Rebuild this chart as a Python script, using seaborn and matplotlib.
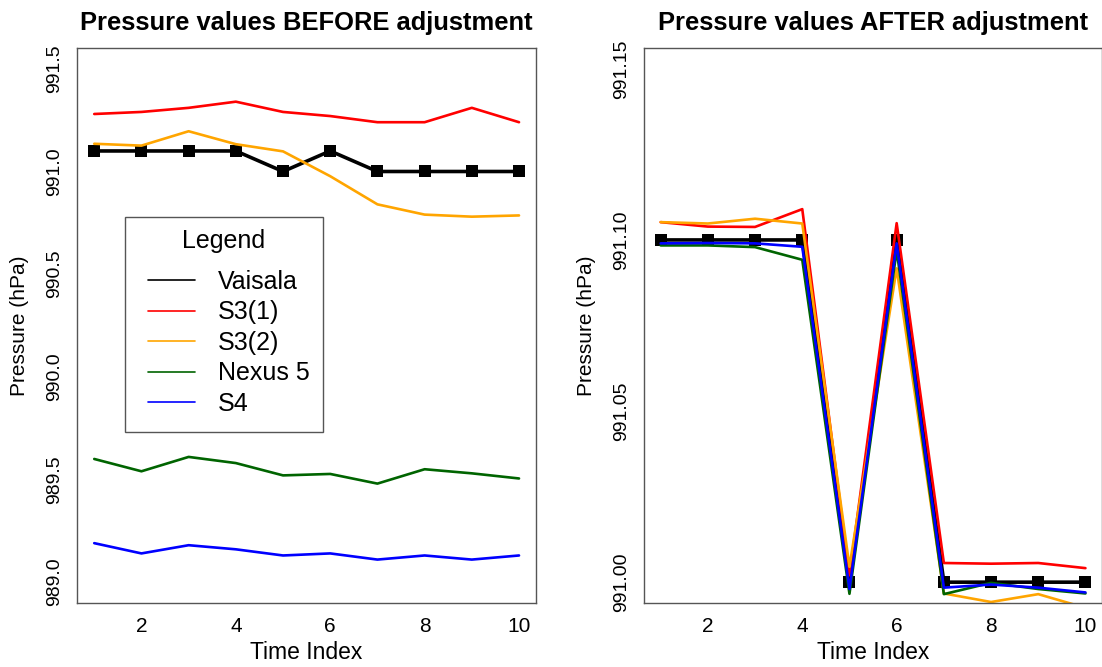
import numpy as np
import pandas as pd
import matplotlib
matplotlib.use("Agg")
import matplotlib.pyplot as plt
from matplotlib.lines import Line2D
from matplotlib.patches import Rectangle
import seaborn as sns

# Time index shared by both panels
time_index = list(range(1, 11))

devices = ["Vaisala", "S3(1)", "S3(2)", "Nexus 5", "S4"]
colors = ["black", "red", "orange", "darkgreen", "blue"]

# Raw barometer readings (hPa)
before_vaisala = [991.1, 991.1, 991.1, 991.1, 991.0, 991.1, 991.0, 991.0, 991.0, 991.0]
before_s3_1 = [991.28, 991.29, 991.31, 991.34, 991.29, 991.27, 991.24, 991.24, 991.31, 991.24]
before_s3_2 = [991.135, 991.126, 991.196, 991.133, 991.098, 990.977, 990.84, 990.79, 990.78, 990.786]
before_nexus5 = [989.60, 989.54, 989.61, 989.58, 989.52, 989.527, 989.48, 989.55, 989.53, 989.505]
before_s4 = [989.19, 989.14, 989.18, 989.16, 989.13, 989.14, 989.11, 989.13, 989.11, 989.13]

# Readings after offset adjustment (hPa)
after_vaisala = [991.1, 991.1, 991.1, 991.1, 991.0, 991.1, 991.0, 991.0, 991.0, 991.0]
after_s3_1 = [991.1052, 991.1039, 991.1038, 991.109, 991.002, 991.1049, 991.0056, 991.0054, 991.0056, 991.0041]
after_s3_2 = [991.1052, 991.1048, 991.1062, 991.1048, 991.0045, 991.0917, 990.9967, 990.9942, 990.9965, 990.9925]
after_nexus5 = [991.0984, 991.0984, 991.0979, 991.0942, 990.9966, 991.097, 990.9965, 990.9998, 990.998, 990.9967]
after_s4 = [991.099, 991.0991, 991.099, 991.098, 990.998, 991.099, 990.9984, 990.9993, 990.9984, 990.997]


def long_frame(series):
    rows = []
    for name, vals in zip(devices, series):
        for t, v in zip(time_index, vals):
            rows.append({"Time Index": t, "Pressure": v, "Device": name})
    return pd.DataFrame(rows)


df_before = long_frame([before_vaisala, before_s3_1, before_s3_2, before_nexus5, before_s4])
df_after = long_frame([after_vaisala, after_s3_1, after_s3_2, after_nexus5, after_s4])

sns.set_style("white")
plt.rcParams["font.family"] = ["Liberation Sans", "DejaVu Sans"]
plt.rcParams["text.color"] = "black"
plt.rcParams["axes.labelcolor"] = "black"

fig = plt.figure(figsize=(11.02, 6.67), dpi=100)
ax_l = fig.add_axes([0.0701, 0.0964, 0.4163, 0.8312])
ax_r = fig.add_axes([0.5841, 0.0964, 0.4163, 0.8312])

palette = dict(zip(devices[1:], colors[1:]))


def draw_panel(ax, df, title, ylim, yticks, yfmt, ylabel_x):
    ref = df[df["Device"] == "Vaisala"]
    sns.lineplot(data=ref, x="Time Index", y="Pressure", color="black",
                 linewidth=2.6, marker="s", markersize=9, markeredgewidth=0,
                 estimator=None, legend=False, ax=ax)
    other = df[df["Device"] != "Vaisala"]
    sns.lineplot(data=other, x="Time Index", y="Pressure", hue="Device",
                 hue_order=devices[1:], palette=palette, linewidth=1.9,
                 estimator=None, legend=False, ax=ax)
    ax.set_xlim(0.64, 10.36)
    ax.set_ylim(*ylim)
    ax.set_xticks([2, 4, 6, 8, 10])
    ax.set_yticks(yticks)
    ax.set_yticklabels([yfmt.format(v) for v in yticks], rotation=90,
                       va="center")
    ax.tick_params(axis="both", direction="out", length=6, width=1,
                   color="#666666", pad=4, labelcolor="black")
    ax.tick_params(axis="x", labelsize=15)
    ax.tick_params(axis="y", labelsize=14)
    for s in ax.spines.values():
        s.set_color("#555555")
        s.set_linewidth(1.0)
    ax.set_title(title, fontsize=18.4, fontweight="bold", pad=13,
                 color="black")
    ax.set_xlabel("Time Index", fontsize=16.5)
    ax.set_ylabel("Pressure (hPa)", fontsize=15)
    ax.xaxis.set_label_coords(0.5, -0.0907)
    ax.yaxis.set_label_coords(ylabel_x, 0.5)
    ax.xaxis.label.set_va("center")
    ax.yaxis.label.set_va("center")


draw_panel(ax_l, df_before, "Pressure values BEFORE adjustment",
           (988.9, 991.6), [989.0, 989.5, 990.0, 990.5, 991.0, 991.5],
           "{:.1f}", -0.125)
draw_panel(ax_r, df_after, "Pressure values AFTER adjustment",
           (990.994, 991.156), [991.00, 991.05, 991.10, 991.15],
           "{:.2f}", -0.1236)

# Legend box, heading and entries placed separately for R-like spacing
ax_l.add_patch(Rectangle((0.104, 0.3079), 0.4316, 0.3878,
                         transform=ax_l.transAxes, fill=True,
                         facecolor="white", edgecolor="#555555",
                         linewidth=1.0, zorder=5))
ax_l.text(0.3198, 0.6524, "Legend", transform=ax_l.transAxes,
          ha="center", va="center", fontsize=18, zorder=6)
handles = [Line2D([0], [0], color=c, lw=1.2) for c in colors]
leg = ax_l.legend(handles, devices, loc="upper left",
                  bbox_to_anchor=(0.1541, 0.6001), borderaxespad=0,
                  fontsize=18, frameon=False,
                  handlelength=1.88, handletextpad=0.92,
                  labelspacing=0.26, borderpad=0.0)
leg.set_zorder(6)

fig.savefig("out.png", dpi=100)
